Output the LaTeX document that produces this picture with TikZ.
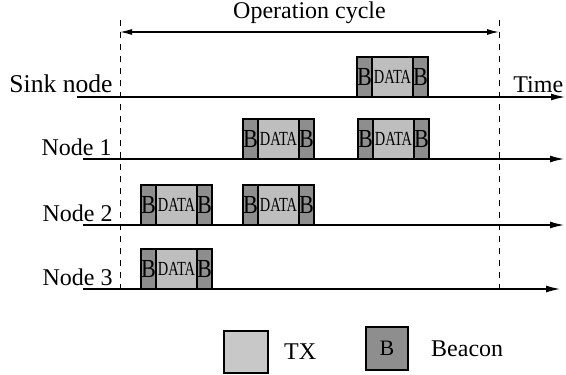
\documentclass[tikz,border=0pt]{standalone}
\usepackage{fontspec}
\setmainfont{Liberation Serif}
\usetikzlibrary{arrows.meta,positioning}

\definecolor{bcngray}{HTML}{8E8E8E}
\definecolor{txgray}{HTML}{BEBEBE}

% one packet: beacon, data, beacon; #1 name, #2 south west corner
\newcommand{\packet}[2]{%
  \node[bcn, anchor=south west] (#1b1) at (#2) {\scalebox{0.85}[1]{B}};
  \node[txbox, right=0pt of #1b1] (#1d) {\scalebox{0.72}[1]{DATA}};
  \node[bcn, right=0pt of #1d] (#1b2) {\scalebox{0.85}[1]{B}};}

\begin{document}
\begin{tikzpicture}[
  x=0.5pt, y=-0.5pt,
  lbl/.style={font=\fontsize{12}{14}\selectfont, inner sep=0pt},
  bcn/.style={draw, line width=0.7pt, fill=bcngray, minimum width=7.5pt, minimum height=20pt, inner sep=0pt, outer sep=0pt, font=\fontsize{13}{14}\selectfont},
  txbox/.style={draw, line width=0.7pt, fill=txgray, minimum width=20.5pt, minimum height=20pt, inner sep=0pt, outer sep=0pt, font=\fontsize{10}{12}\selectfont},
  axis/.style={line width=0.6pt, -{Latex[length=7pt, width=3.5pt]}},
  arr/.style={line width=0.6pt, {Latex[length=6pt, width=3pt]}-{Latex[length=6pt, width=3pt]}}
]
\useasboundingbox (0,0) rectangle (566,374);

% cycle borders
\coordinate (cl top) at (120,20);
\coordinate (cl bot) at (120,289);
\coordinate (cr top) at (499,20);
\coordinate (cr bot) at (499,289);
\draw[dashed, line width=0.5pt] (cl top) -- (cl bot);
\draw[dashed, line width=0.5pt] (cr top) -- (cr bot);
\coordinate (cyc a) at (120,32);
\coordinate (cyc b) at (499,32);
\draw[arr] (cyc a) -- node[above=4pt, lbl] (cyc) {Operation cycle} (cyc b);

% time axes
\coordinate (s0) at (77,97);   \coordinate (s1) at (565,97);
\coordinate (n10) at (83,159); \coordinate (n11) at (564,159);
\coordinate (n20) at (83,225); \coordinate (n21) at (564,225);
\coordinate (n30) at (83,289); \coordinate (n31) at (560,289);
\draw[axis] (s0) -- (s1);
\draw[axis] (n10) -- (n11);
\draw[axis] (n20) -- (n21);
\draw[axis] (n30) -- (n31);

\node[lbl, font=\fontsize{12.8}{14}\selectfont, anchor=base east] (lsink) at (113,92) {Sink node};
\node[lbl, anchor=base east] (lone) at (112,155) {Node 1};
\node[lbl, anchor=base east] (ltwo) at (113,221) {Node 2};
\node[lbl, anchor=base east] (lthree) at (113,285) {Node 3};
\node[lbl, anchor=base west] (ltime) at (513,92) {Time};

% packets
\packet{ps}{357,97}
\packet{pa}{243,159}
\packet{pb}{358,159}
\packet{pc}{141,225}
\packet{pd}{243,225}
\packet{pe}{141,289}

% legend
\node[draw, line width=0.7pt, fill=txgray!85, minimum width=22pt, minimum height=21pt, inner sep=0pt] (legtx) at (246,352) {};
\node[lbl, right=7.5pt of legtx] (legtxt) {TX};
\node[draw, line width=0.8pt, fill=bcngray, minimum width=21pt, minimum height=21.5pt, inner sep=0pt, font=\fontsize{11}{12}\selectfont] (legb) at (387,348.5) {B};
\node[lbl, right=11pt of legb] (legbt) {Beacon};
\end{tikzpicture}
\end{document}
